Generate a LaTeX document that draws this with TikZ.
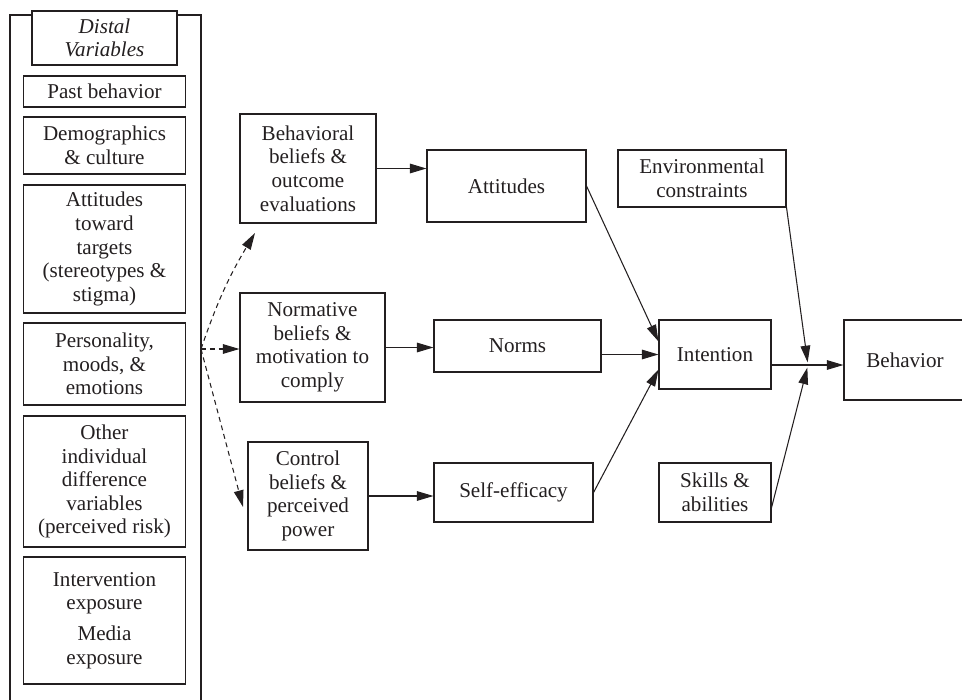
\documentclass[tikz,border=0pt]{standalone}
\usepackage{fontspec}
\setmainfont{Liberation Serif}
\usetikzlibrary{positioning, arrows.meta}
\definecolor{ink}{HTML}{231F20}

\begin{document}
\begin{tikzpicture}[
    every node/.style={font=\fontsize{12}{13.4}\selectfont, text=ink},
    block/.style={draw=ink, line width=0.6pt, align=center, inner sep=1pt},
    distal/.style={block, minimum width=3.24cm},
    link/.style={draw=ink, line width=0.6pt, -{Triangle[length=9.5pt,width=5.5pt]}},
    hint/.style={link, dash pattern=on 2.8pt off 2.2pt},
  ]
  \useasboundingbox (0,0) rectangle (19.24,-14);

  % Distal variables column
  \draw[ink, line width=0.6pt] (0.2,-14) -- (0.2,-0.3) -- (4.02,-0.3) -- (4.02,-14);
  \node[block, fill=white, minimum width=2.9cm, minimum height=1.08cm,
        font=\fontsize{12}{13.4}\selectfont\itshape] (dv) at (2.09,-0.76) {Distal\\Variables};
  \node[distal, minimum height=0.62cm] (past) at (2.09,-1.83) {Past behavior};
  \node[distal, minimum height=1.14cm] (demo) at (2.09,-2.91) {Demographics\\\& culture};
  \node[distal, minimum height=2.56cm] (targ) at (2.09,-4.98)
    {Attitudes\\toward\\targets\\(stereotypes \&\\stigma)};
  \node[distal, minimum height=1.64cm] (pers) at (2.09,-7.28) {Personality,\\moods, \&\\emotions};
  \node[distal, minimum height=2.62cm] (indiv) at (2.09,-9.63)
    {Other\\individual\\difference\\variables\\(perceived risk)};
  \node[distal, minimum height=2.54cm] (expo) at (2.09,-12.41)
    {Intervention\\exposure\\[4pt]Media\\exposure};

  % Beliefs
  \node[block, minimum width=2.72cm, minimum height=2.18cm] (bb) at (6.16,-3.37)
    {Behavioral\\beliefs \&\\outcome\\evaluations};
  \node[block, minimum width=2.9cm, minimum height=2.18cm] (nb) at (6.25,-6.95)
    {Normative\\beliefs \&\\motivation to\\comply};
  \node[block, minimum width=2.4cm, minimum height=2.16cm] (cb) at (6.16,-9.92)
    {Control\\beliefs \&\\perceived\\power};

  % Determinants
  \node[block, minimum width=3.18cm, minimum height=1.44cm] (att) at (10.13,-3.72) {Attitudes};
  \node[block, minimum width=3.34cm, minimum height=1.04cm] (norms) at (10.35,-6.92) {Norms};
  \node[block, minimum width=3.18cm, minimum height=1.18cm] (eff) at (10.27,-9.85) {Self-efficacy};

  % Intention and behavior
  \node[block, minimum width=3.36cm, minimum height=1.14cm] (env) at (14.04,-3.57)
    {Environmental\\constraints};
  \node[block, minimum width=2.24cm, minimum height=1.38cm] (int) at (14.30,-7.09) {Intention};
  \node[block, minimum width=2.24cm, minimum height=1.18cm] (skill) at (14.30,-9.85)
    {Skills \&\\abilities};
  \node[block, minimum width=2.44cm, minimum height=1.6cm] (beh) at (18.1,-7.2) {Behavior};

  % Dashed influences
  \coordinate (src) at (4.02,-6.98);
  \coordinate (bbend) at (5.10,-4.66);
  \coordinate (cbend) at (4.86,-10.14);
  \draw[hint] (src) to[bend left=6] (bbend);
  \draw[hint] (src) -- (src -| nb.west);
  \draw[hint] (src) -- (cbend);

  \draw[link] (bb.east) -- (bb.east -| att.west);
  \draw[link] (nb.east) -- (nb.east -| norms.west);
  \draw[link] (cb.east) -- (cb.east -| eff.west);

  \draw[link] (att.east) -- (int.167);
  \draw[link] (int.west -| norms.east) -- (int.west);
  \draw[link] (eff.east) -- (int.195);

  \coordinate (jn) at (16.16,-7.30);
  \draw[link] (jn -| int.east) -- (jn -| beh.west);
  \draw[link, shorten >=1.5pt] (env.south east) -- (jn);
  \draw[link, shorten >=1.5pt] (skill.-15) -- (jn);
\end{tikzpicture}
\end{document}
